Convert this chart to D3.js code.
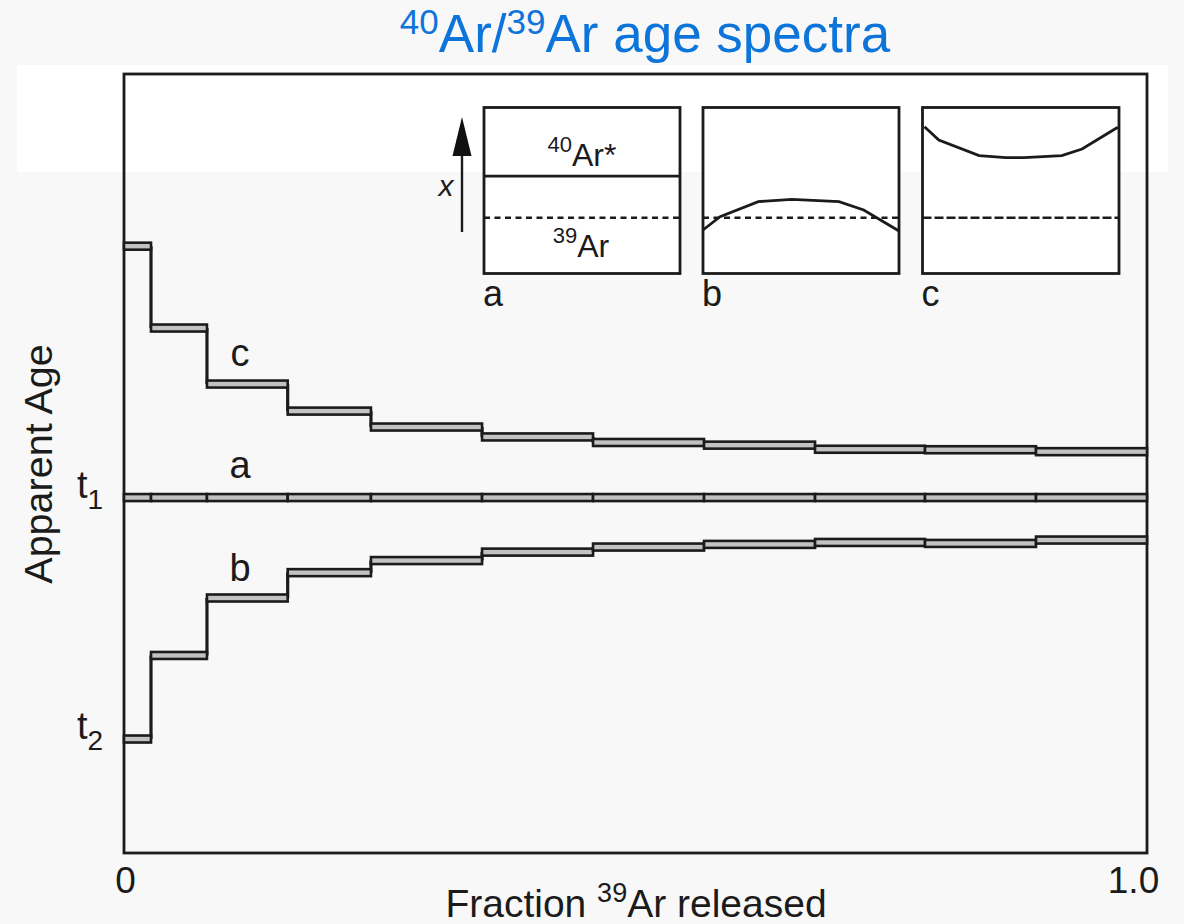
<!DOCTYPE html>
<html><head><meta charset="utf-8">
<script src="https://cdn.jsdelivr.net/npm/d3@7"></script>
<style>html,body{margin:0;padding:0;background:#f7f7f7;}svg{display:block;font-family:"Liberation Sans",Arial,sans-serif;}</style>
</head><body>
<script>
// ---- data ----
const stepEdges = [0, 0.0264, 0.0811, 0.160, 0.2414, 0.35, 0.4585, 0.567, 0.6755, 0.783, 0.8915, 1.0];
const spectrumA = [100, 100, 100, 100, 100, 100, 100, 100, 100, 100, 100];
const spectrumB = [0, 34.6, 58.4, 68.9, 73.9, 77.4, 79.5, 80.6, 81.4, 81.0, 82.4];
const spectrumC = [204.1, 170.2, 147.0, 135.8, 129.2, 125.1, 122.8, 121.7, 120.0, 119.8, 119.0];
const spectrumNames = ["a", "b", "c"];
const xTickValues = [0, 1];
const xTickLabels = ["0", "1.0"];
const yTickValues = [100, 0];
const yTickLabels = [["t", "1"], ["t", "2"]];
// inset profiles (position across grain 0..1, height x 0..1)
const insetLevelA = 0.587;
const insetDashed = 0.336;
const insetB = [[0, 0.262], [0.087, 0.342], [0.282, 0.433], [0.453, 0.447], [0.694, 0.433], [0.82, 0.383], [0.998, 0.258]];
const insetC = [[0.01, 0.884], [0.083, 0.804], [0.288, 0.71], [0.424, 0.698], [0.516, 0.698], [0.709, 0.71], [0.812, 0.75], [0.994, 0.881]];

// ---- layout ----
const W = 1184, H = 924;
const plot = {left: 124, right: 1147, top: 74, bottom: 853};
const ink = "#1b1b1b";
const svg = d3.select("body").append("svg").attr("width", W).attr("height", H);

svg.append("rect").attr("width", W).attr("height", H).attr("fill", "#f8f8f8");
svg.append("rect").attr("x", 17).attr("y", 65).attr("width", 1151).attr("height", 107).attr("fill", "#ffffff");

// title
const title = svg.append("text").attr("x", 645).attr("y", 52).attr("text-anchor", "middle")
  .attr("fill", "#0d74d9").attr("font-size", 53);
title.append("tspan").attr("font-size", 35).attr("dy", -18).text("40");
title.append("tspan").attr("dy", 18).text("Ar/");
title.append("tspan").attr("font-size", 35).attr("dy", -18).text("39");
title.append("tspan").attr("dy", 18).text("Ar age spectra");

const x = d3.scaleLinear().domain([0, 1]).range([plot.left, plot.right]);
const y = d3.scaleLinear().domain([-47.2, 275.4]).range([plot.bottom, plot.top]);

// frame
svg.append("rect").attr("x", plot.left).attr("y", plot.top)
  .attr("width", plot.right - plot.left).attr("height", plot.bottom - plot.top)
  .attr("fill", "none").attr("stroke", ink).attr("stroke-width", 2.8);

// x axis
const xAxis = d3.axisBottom(x).tickValues(xTickValues).tickSize(0)
  .tickFormat((d, i) => xTickLabels[i]);
const gx = svg.append("g").attr("transform", `translate(0,${plot.bottom})`).call(xAxis);
gx.select(".domain").remove();
gx.selectAll("text").attr("font-size", 37).attr("fill", ink).attr("dy", "1.0em")
  .attr("font-family", "Liberation Sans, Arial, sans-serif")
  .attr("dx", (d, i) => i === 1 ? -14 : 1);

const xl = svg.append("text").attr("x", 636).attr("y", 917).attr("text-anchor", "middle")
  .attr("font-size", 39).attr("fill", ink);
xl.append("tspan").text("Fraction ");
xl.append("tspan").attr("font-size", 27).attr("dy", -15).text("39");
xl.append("tspan").attr("dy", 15).text("Ar released");

// y label
svg.append("text").attr("transform", "translate(52,464) rotate(-90)").attr("text-anchor", "middle")
  .attr("font-size", 39.5).attr("fill", ink).text("Apparent Age");

// y tick labels t1, t2
yTickValues.forEach((v, i) => {
  const t = svg.append("text").attr("x", 77).attr("y", y(v)).attr("font-size", 38).attr("fill", ink);
  t.append("tspan").text(yTickLabels[i][0]);
  t.append("tspan").attr("font-size", 28).attr("dy", 11).text(yTickLabels[i][1]);
});

// spectra
function drawSpectrum(values) {
  const g = svg.append("g");
  g.selectAll("line").data(values.slice(0, -1)).join("line")
    .attr("x1", (d, i) => x(stepEdges[i + 1])).attr("x2", (d, i) => x(stepEdges[i + 1]))
    .attr("y1", (d, i) => y(values[i])).attr("y2", (d, i) => y(values[i + 1]))
    .attr("stroke", ink).attr("stroke-width", 3.2);
  g.selectAll("rect").data(values).join("rect")
    .attr("x", (d, i) => x(stepEdges[i])).attr("width", (d, i) => x(stepEdges[i + 1]) - x(stepEdges[i]))
    .attr("y", d => y(d) - 3.5).attr("height", 7)
    .attr("fill", "#c2c2c2").attr("stroke", ink).attr("stroke-width", 2.6);
}
[spectrumA, spectrumB, spectrumC].forEach(drawSpectrum);

// spectrum labels
const labelPos = {a: [240, 478], b: [240, 581], c: [240, 366]};
spectrumNames.forEach(n => {
  svg.append("text").attr("x", labelPos[n][0]).attr("y", labelPos[n][1]).attr("text-anchor", "middle")
    .attr("font-size", 38).attr("fill", ink).text(n);
});

// insets
const insetBoxes = [{x0: 484, x1: 680}, {x0: 703, x1: 899}, {x0: 922.5, x1: 1119}];
const insetTop = 107.5, insetBottom = 273.5;
const iy = d3.scaleLinear().domain([0, 1]).range([insetBottom, insetTop]);
insetBoxes.forEach((b, k) => {
  const ix = d3.scaleLinear().domain([0, 1]).range([b.x0, b.x1]);
  const g = svg.append("g");
  g.append("rect").attr("x", b.x0).attr("y", insetTop).attr("width", b.x1 - b.x0)
    .attr("height", insetBottom - insetTop).attr("fill", "#ffffff").attr("stroke", ink).attr("stroke-width", 2.8);
  g.append("line").attr("x1", ix(0)).attr("x2", ix(1)).attr("y1", iy(insetDashed)).attr("y2", iy(insetDashed))
    .attr("stroke", ink).attr("stroke-width", 2.4).attr("stroke-dasharray", k === 2 ? "9,3" : "6,4.5");
  if (k === 0) {
    g.append("line").attr("x1", ix(0)).attr("x2", ix(1)).attr("y1", iy(insetLevelA)).attr("y2", iy(insetLevelA))
      .attr("stroke", ink).attr("stroke-width", 2.8);
  } else {
    const data = k === 1 ? insetB : insetC;
    g.append("path").attr("d", d3.line().x(d => ix(d[0])).y(d => iy(d[1]))(data))
      .attr("fill", "none").attr("stroke", ink).attr("stroke-width", 2.8);
  }
  g.append("text").attr("x", b.x0 - 1).attr("y", 306).attr("font-size", 36).attr("fill", ink).text(spectrumNames[k]);
});

// inset a labels
const t40 = svg.append("text").attr("x", 582).attr("y", 166).attr("text-anchor", "middle").attr("font-size", 32).attr("fill", ink);
t40.append("tspan").attr("font-size", 22).attr("dy", -14).text("40");
t40.append("tspan").attr("dy", 14).text("Ar*");
const t39 = svg.append("text").attr("x", 581).attr("y", 257).attr("text-anchor", "middle").attr("font-size", 32).attr("fill", ink);
t39.append("tspan").attr("font-size", 22).attr("dy", -14).text("39");
t39.append("tspan").attr("dy", 14).text("Ar");

// arrow
svg.append("line").attr("x1", 462).attr("x2", 462).attr("y1", 232).attr("y2", 150)
  .attr("stroke", ink).attr("stroke-width", 2.4);
svg.append("path").attr("d", "M462,117 L452.5,156 L471.5,156 Z").attr("fill", "#111");
svg.append("text").attr("x", 446).attr("y", 196).attr("text-anchor", "middle").attr("font-size", 30)
  .attr("font-style", "italic").attr("fill", ink).text("x");
</script>
</body></html>
